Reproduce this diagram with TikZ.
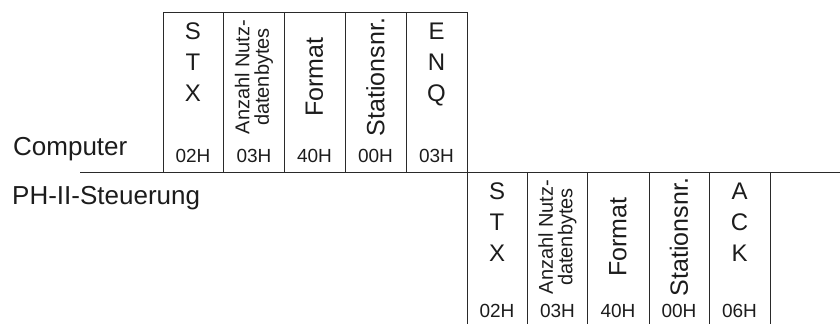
\documentclass[tikz,border=0pt]{standalone}
\usepackage{fontspec}
\setmainfont{Liberation Sans}
\usepackage{tikz}
\definecolor{cLine}{HTML}{2A2A2A}
\definecolor{cText}{HTML}{1C1C1C}
\def\rowA{12}
\def\rowB{172}
\tikzset{
  tline/.style={draw=cLine,line width=0.9pt},
  hexlab/.style={font=\fontsize{19}{22}\selectfont,text=cText,inner sep=0pt,anchor=base},
  stacklab/.style={font=\fontsize{24}{31}\selectfont,text=cText,inner sep=0pt,
      align=center,anchor=north},
  rotlab/.style={font=\fontsize{25}{28}\selectfont,text=cText,inner sep=0pt,rotate=90},
  rotpair/.style={font=\fontsize{20}{19.5}\selectfont,text=cText,inner sep=0pt,
      rotate=90,align=center},
  sidelab/.style={font=\fontsize{26}{30}\selectfont,text=cText,inner sep=0pt,
      anchor=base west},
}
\newcommand{\stackcell}[6]{%
  \node[stacklab] (#1) at (#2,#3+11) {#4};
  \node[hexlab] (#1h) at (#2,#3+#6) {#5};}
\newcommand{\rotcell}[7]{%
  \node[#2] (#1) at (#3,#4+65) {#5};
  \node[hexlab] (#1h) at (#3,#4+#7) {#6};}

\begin{document}
\begin{tikzpicture}[x=1pt,y=-1pt]
  \useasboundingbox (0,0) rectangle (840,324);

  % grid
  \foreach \xx in {163,223,284,345,406} \draw[tline] (\xx,\rowA) -- (\xx,\rowB);
  \foreach \xx in {527,587,649,709,770} \draw[tline] (\xx,\rowB) -- (\xx,324);
  \draw[tline] (467,\rowA) -- (467,324);
  \draw[tline] (163,\rowA) -- (467,\rowA);
  \draw[tline] (80,\rowB) -- (840,\rowB);

  \node[sidelab] (pc) at (13,155) {Computer};
  \node[sidelab] (plc) at (12,204) {PH-II-Steuerung};

  % Computer -> Steuerung
  \stackcell{stxA}{193}{\rowA}{S\\T\\X}{02H}{150}
  \rotcell{lenA}{rotpair}{254}{\rowA}{Anzahl Nutz-\\datenbytes}{03H}{150}
  \rotcell{fmtA}{rotlab}{314.5}{\rowA}{Format}{40H}{150}
  \rotcell{stnA}{rotlab}{375.5}{\rowA}{Stationsnr.}{00H}{150}
  \stackcell{enq}{436.5}{\rowA}{E\\N\\Q}{03H}{150}

  % Steuerung -> Computer
  \stackcell{stxB}{497}{\rowB}{S\\T\\X}{02H}{145}
  \rotcell{lenB}{rotpair}{557.5}{\rowB}{Anzahl Nutz-\\datenbytes}{03H}{145}
  \rotcell{fmtB}{rotlab}{618}{\rowB}{Format}{40H}{145}
  \rotcell{stnB}{rotlab}{679}{\rowB}{Stationsnr.}{00H}{145}
  \stackcell{ack}{739.5}{\rowB}{A\\C\\K}{06H}{145}
\end{tikzpicture}
\end{document}
